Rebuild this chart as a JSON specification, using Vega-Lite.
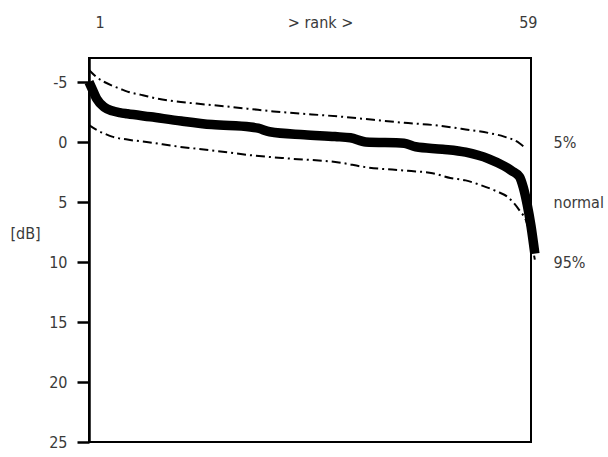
{
  "$schema": "https://vega.github.io/schema/vega-lite/v6.json",
  "width": 442,
  "height": 384,
  "autosize": {"type": "none"},
  "padding": {"left": 89, "top": 58, "right": 77, "bottom": 15},
  "background": "white",
  "config": {
    "view": {"stroke": "black", "strokeWidth": 2},
    "axis": {
      "grid": false,
      "labelFont": "DejaVu Sans Condensed, Roboto, sans-serif",
      "titleFont": "DejaVu Sans Condensed, Roboto, sans-serif",
      "labelFontSize": 16,
      "titleFontSize": 16,
      "titleFontWeight": "normal",
      "labelColor": "#3a3a3a",
      "titleColor": "#3a3a3a"
    }
  },
  "data": {
    "values": [
      {"series": "5%", "rank": 1, "dB": -6.0},
      {"series": "5%", "rank": 2, "dB": -5.4},
      {"series": "5%", "rank": 3, "dB": -5.0},
      {"series": "5%", "rank": 4, "dB": -4.7},
      {"series": "5%", "rank": 5, "dB": -4.45},
      {"series": "5%", "rank": 6, "dB": -4.2},
      {"series": "5%", "rank": 8, "dB": -3.9},
      {"series": "5%", "rank": 10, "dB": -3.6},
      {"series": "5%", "rank": 12, "dB": -3.4},
      {"series": "5%", "rank": 15, "dB": -3.2},
      {"series": "5%", "rank": 19, "dB": -2.95},
      {"series": "5%", "rank": 22, "dB": -2.75},
      {"series": "5%", "rank": 25, "dB": -2.55},
      {"series": "5%", "rank": 30, "dB": -2.3},
      {"series": "5%", "rank": 34, "dB": -2.1},
      {"series": "5%", "rank": 38, "dB": -1.85},
      {"series": "5%", "rank": 42, "dB": -1.6},
      {"series": "5%", "rank": 46, "dB": -1.4},
      {"series": "5%", "rank": 50, "dB": -1.05},
      {"series": "5%", "rank": 53, "dB": -0.75},
      {"series": "5%", "rank": 55, "dB": -0.45},
      {"series": "5%", "rank": 57, "dB": 0.1},
      {"series": "5%", "rank": 57.6, "dB": 0.4},
      {"series": "normal", "rank": 1, "dB": -5.0},
      {"series": "normal", "rank": 1.5, "dB": -4.3},
      {"series": "normal", "rank": 2, "dB": -3.6},
      {"series": "normal", "rank": 3, "dB": -2.9},
      {"series": "normal", "rank": 4, "dB": -2.6},
      {"series": "normal", "rank": 5, "dB": -2.45},
      {"series": "normal", "rank": 6, "dB": -2.35},
      {"series": "normal", "rank": 9, "dB": -2.1},
      {"series": "normal", "rank": 13, "dB": -1.75},
      {"series": "normal", "rank": 17, "dB": -1.45},
      {"series": "normal", "rank": 22, "dB": -1.25},
      {"series": "normal", "rank": 23, "dB": -1.15},
      {"series": "normal", "rank": 24.5, "dB": -0.85},
      {"series": "normal", "rank": 29, "dB": -0.6},
      {"series": "normal", "rank": 33, "dB": -0.45},
      {"series": "normal", "rank": 35, "dB": -0.35},
      {"series": "normal", "rank": 37, "dB": 0.0},
      {"series": "normal", "rank": 42, "dB": 0.1},
      {"series": "normal", "rank": 43.5, "dB": 0.4},
      {"series": "normal", "rank": 47, "dB": 0.6},
      {"series": "normal", "rank": 50, "dB": 0.85},
      {"series": "normal", "rank": 53, "dB": 1.4},
      {"series": "normal", "rank": 55, "dB": 2.0},
      {"series": "normal", "rank": 56, "dB": 2.4},
      {"series": "normal", "rank": 57, "dB": 2.9},
      {"series": "normal", "rank": 57.5, "dB": 3.8},
      {"series": "normal", "rank": 58, "dB": 5.2},
      {"series": "normal", "rank": 58.5, "dB": 7.0},
      {"series": "normal", "rank": 59, "dB": 9.3},
      {"series": "95%", "rank": 1, "dB": -1.4},
      {"series": "95%", "rank": 2, "dB": -1.0},
      {"series": "95%", "rank": 3, "dB": -0.7},
      {"series": "95%", "rank": 4, "dB": -0.45},
      {"series": "95%", "rank": 6, "dB": -0.2},
      {"series": "95%", "rank": 8.5, "dB": 0.0},
      {"series": "95%", "rank": 12.8, "dB": 0.4},
      {"series": "95%", "rank": 17, "dB": 0.7},
      {"series": "95%", "rank": 22, "dB": 1.1},
      {"series": "95%", "rank": 27.5, "dB": 1.4},
      {"series": "95%", "rank": 33.5, "dB": 1.7},
      {"series": "95%", "rank": 37, "dB": 2.1},
      {"series": "95%", "rank": 42.5, "dB": 2.4},
      {"series": "95%", "rank": 45.7, "dB": 2.6},
      {"series": "95%", "rank": 48, "dB": 3.0},
      {"series": "95%", "rank": 50, "dB": 3.2},
      {"series": "95%", "rank": 52, "dB": 3.6},
      {"series": "95%", "rank": 54, "dB": 4.1},
      {"series": "95%", "rank": 55.5, "dB": 4.6},
      {"series": "95%", "rank": 57, "dB": 5.7},
      {"series": "95%", "rank": 58, "dB": 6.8},
      {"series": "95%", "rank": 59, "dB": 9.8}
    ]
  },
  "layer": [
    {
      "transform": [{"filter": "datum.series == '5%'"}],
      "mark": {"type": "line", "interpolate": "monotone", "color": "black", "strokeWidth": 2, "strokeDash": [9, 4, 2, 4]},
      "encoding": {
        "x": {
          "field": "rank", "type": "quantitative",
          "scale": {"domain": [1, 58.5], "nice": false, "zero": false},
          "axis": {
            "orient": "top", "values": [1, 58.5], "ticks": false, "domain": false,
            "labelPadding": 28, "labelOffset": 6,
            "labelExpr": "datum.value == 1 ? '1' : '59'",
            "title": "> rank >", "titleX": 231, "titleY": -28, "titleBaseline": "bottom", "titleAlign": "center"
          }
        },
        "y": {
          "field": "dB", "type": "quantitative",
          "scale": {"domain": [-7, 25], "reverse": true, "nice": false, "zero": false},
          "axis": {
            "orient": "left", "values": [-5, 0, 5, 10, 15, 20, 25],
            "labelExpr": "datum.value < 0 ? '-' + abs(datum.value) : datum.label",
            "tickSize": 12, "tickWidth": 2.5, "tickColor": "black",
            "domain": true, "domainColor": "black", "domainWidth": 2.5,
            "labelPadding": 10,
            "title": "[dB]", "titleAngle": 0, "titleX": -64, "titleY": 175,
            "titleAlign": "center", "titleBaseline": "middle"
          }
        }
      }
    },
    {
      "transform": [{"filter": "datum.series == 'normal'"}],
      "mark": {"type": "line", "interpolate": "monotone", "color": "black", "strokeWidth": 9.5},
      "encoding": {
        "x": {"field": "rank", "type": "quantitative"},
        "y": {"field": "dB", "type": "quantitative", "axis": null}
      }
    },
    {
      "transform": [{"filter": "datum.series == '95%'"}],
      "mark": {"type": "line", "interpolate": "monotone", "color": "black", "strokeWidth": 2, "strokeDash": [9, 4, 2, 4]},
      "encoding": {
        "x": {"field": "rank", "type": "quantitative"},
        "y": {
          "field": "dB", "type": "quantitative",
          "axis": {
            "orient": "right", "values": [0, 5, 10], "ticks": false, "domain": false,
            "labelPadding": 22, "labelAlign": "left",
            "labelExpr": "datum.value == 0 ? '5%' : datum.value == 5 ? 'normal' : '95%'",
            "title": null
          }
        }
      }
    }
  ],
  "resolve": {"axis": {"y": "independent"}}
}
